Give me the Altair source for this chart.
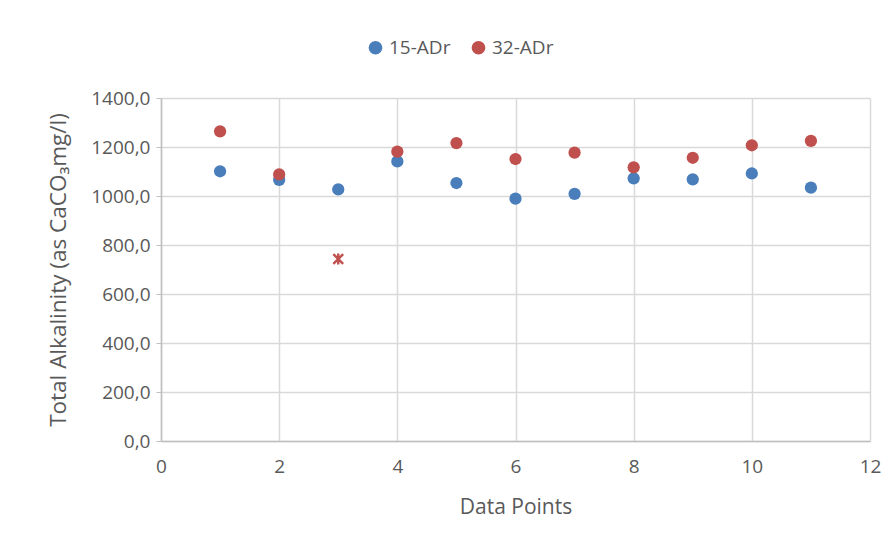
import altair as alt
import pandas as pd

x_points = [1, 2, 3, 4, 5, 6, 7, 8, 9, 10, 11]
s15 = [1101, 1066, 1027, 1141, 1053, 989, 1009, 1072, 1068, 1092, 1034]
s32 = [1264, 1088, 743, 1181, 1216, 1151, 1177, 1117, 1156, 1207, 1225]
outlier_index = 2  # point 3 of 32-ADr drawn as asterisk

rows = []
for i, x in enumerate(x_points):
    rows.append({"x": x, "y": s15[i], "series": "15-ADr", "kind": "normal"})
    rows.append({"x": x, "y": s32[i], "series": "32-ADr",
                 "kind": "outlier" if i == outlier_index else "normal"})
df = pd.DataFrame(rows)

font = "Open Sans"
grey = "#595959"
colors = alt.Scale(domain=["15-ADr", "32-ADr"], range=["#4a7ebb", "#c0504d"])

xenc = alt.X("x:Q", scale=alt.Scale(domain=[0, 12], nice=False),
             axis=alt.Axis(values=[0, 2, 4, 6, 8, 10, 12], title="Data Points",
                           labelExpr="format(datum.value, 'd')", labelFlush=False,
                           ticks=False, labelPadding=16, titlePadding=20))
yenc = alt.Y("y:Q", scale=alt.Scale(domain=[0, 1400], nice=False),
             axis=alt.Axis(values=[0, 200, 400, 600, 800, 1000, 1200, 1400],
                           title="Total Alkalinity (as CaCO₃mg/l)",
                           labelExpr="replace(format(datum.value, '.1f'), '.', ',')",
                           tickSize=5, labelPadding=6, titlePadding=20,
                           titleFontSize=22.5))

pts = alt.Chart(df).transform_filter("datum.kind == 'normal'").mark_point(
    filled=True, size=150, opacity=1, shape="circle"
).encode(
    x=xenc, y=yenc,
    color=alt.Color("series:N", scale=colors,
                    legend=alt.Legend(title=None, orient="none", direction="horizontal",
                                      legendX=205, legendY=-60, symbolType="circle",
                                      symbolSize=150, labelFontSize=19, labelColor=grey,
                                      labelFont=font, columnPadding=18, labelOffset=4)),
)

star = alt.Chart(df).transform_filter("datum.kind == 'outlier'").mark_point(
    filled=False, size=150, opacity=1, strokeWidth=2.4,
    shape="M-0.8,-0.8L0.8,0.8M-0.8,0.8L0.8,-0.8M0,-0.9L0,0.9"
).encode(
    x="x:Q", y="y:Q",
    color=alt.Color("series:N", scale=colors, legend=None),
)

chart = (pts + star).properties(
    width=709, height=343,
    autosize=alt.AutoSizeParams(type="none"),
    padding={"left": 153, "top": 90, "right": 16, "bottom": 93},
).configure_axis(
    gridColor="#d9d9d9", gridWidth=1.5, domainColor="#bfbfbf", domainWidth=1.5,
    tickColor="#bfbfbf", labelColor=grey, titleColor=grey, labelFont=font,
    titleFont=font, labelFontSize=19, titleFontSize=21, titleFontWeight="normal",
).configure_view(stroke=None)

chart.save("out.html", embed_options={"renderer": "svg", "actions": False})
